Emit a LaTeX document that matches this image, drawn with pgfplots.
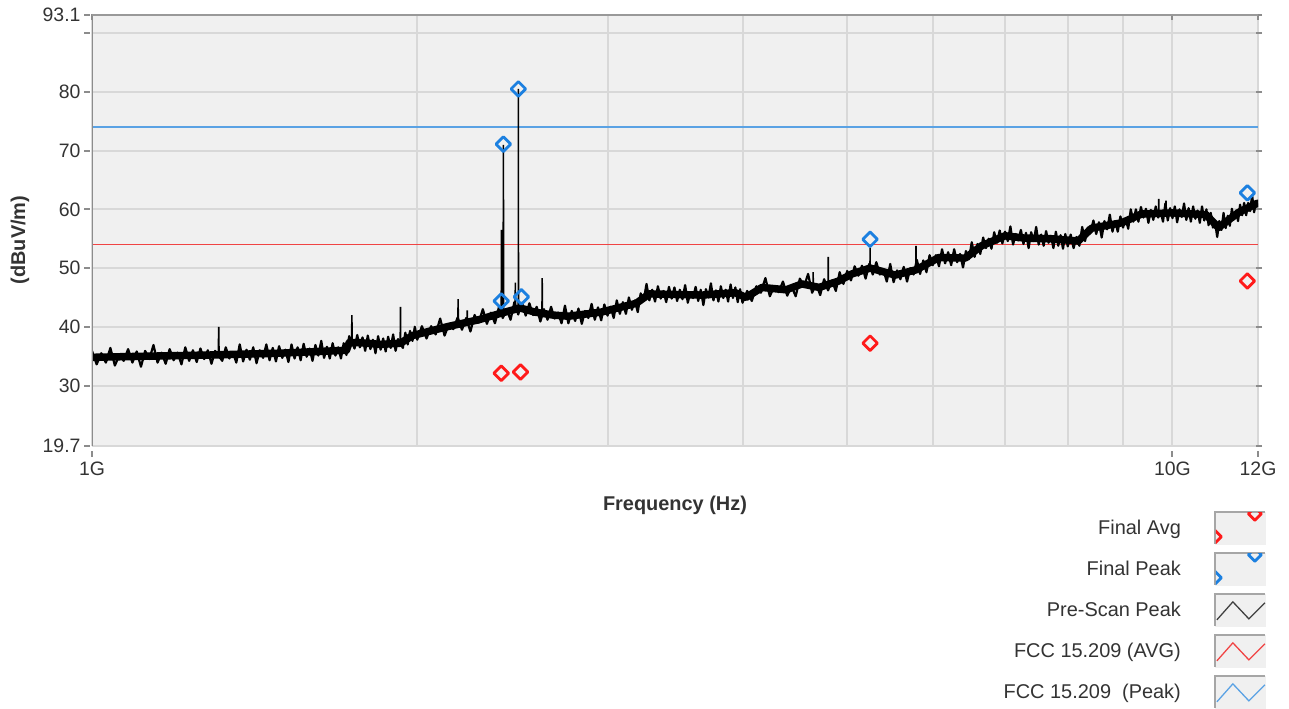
\documentclass[border=0pt]{standalone}
\usepackage{fontspec}
\setmainfont{Liberation Sans}
\usepackage{pgfplots}
\pgfplotsset{compat=1.18}
\definecolor{bgc}{HTML}{F0F0F0}
\definecolor{gridc}{HTML}{D8D8D8}
\definecolor{limblue}{HTML}{5AA2E4}
\definecolor{limred}{HTML}{F04444}
\definecolor{mkblue}{HTML}{1C80E0}
\definecolor{mkred}{HTML}{FF1A1A}
\definecolor{txt}{HTML}{333333}
\definecolor{axc}{HTML}{8C8C8C}
\newcommand{\legbox}{%
  \path[draw=none] (0bp,0bp);
  \fill[bgc] (32bp,-16bp) rectangle (82bp,16bp);
  \draw[gray!70, line width=2bp, solid] (32bp,-16bp) -- (32bp,16bp) -- (82bp,16bp);}
\newcommand{\legclip}{\pgfpathrectangle{\pgfqpoint{33bp}{-16bp}}{\pgfqpoint{49bp}{31bp}}\pgfusepath{clip}}
\begin{document}
\begin{tikzpicture}[x=1bp,y=1bp]
\path[use as bounding box] (0,0) rectangle (1289,709);
\begin{axis}[
  at={(92bp,263bp)}, anchor=south west,
  scale only axis, width=1166bp, height=431bp,
  xmode=log, xmin=1, xmax=12, ymin=19.7, ymax=93.1,
  axis background/.style={fill=bgc},
  axis line style={draw=none},
  xtick={1,10,12}, xticklabels={1G,10G,12G},
  minor xtick={2,3,4,5,6,7,8,9},
  ytick={19.7,30,40,50,60,70,80,90,93.1},
  yticklabels={19.7,30,40,50,60,70,80,,93.1},
  xmajorgrids, xminorgrids, ymajorgrids,
  major grid style={gridc, line width=2bp},
  minor grid style={gridc, line width=2bp},
  tick align=outside, major tick length=6bp, minor tick length=0pt,
  tick style={color=axc, line width=2bp},
  ytick style={xshift=-2bp},
  xtick style={yshift=-5bp},
  /pgf/number format/assume math mode=true,
  ticklabel style={font=\fontsize{19.5}{23}\selectfont, text=txt},
  yticklabel style={xshift=-2bp},
  xticklabel style={yshift=-6bp},
  xlabel={\textbf{Frequency (Hz)}},
  ylabel={\textbf{(dBuV/m)}},
  label style={font=\fontsize{20}{24}\selectfont, text=txt},
  xlabel style={at={(axis description cs:0.5,-0.137)}, anchor=center},
  ylabel style={at={(axis description cs:-0.0617,0.478)}, anchor=center},
  legend plot pos=right,
  legend cell align=right,
  legend style={at={(1.0069,-0.150)}, anchor=north east, draw=none, fill=none,
    font=\fontsize{20}{24}\selectfont, text=txt, row sep=7bp, inner sep=0pt},
  unbounded coords=jump,
  clip=true,
]
% legend entries
\addlegendimage{legend image code/.code={\legbox
  \begin{scope}\legclip
  \draw[mkred, line width=2.8bp, line join=round] plot[mark=square, mark size=4.6bp, mark options={rotate=45}, only marks] coordinates {(32bp,-9bp) (72bp,14bp)};
  \end{scope}}}
\addlegendentry{Final Avg}
\addlegendimage{legend image code/.code={\legbox
  \begin{scope}\legclip
  \draw[mkblue, line width=2.8bp, line join=round] plot[mark=square, mark size=4.6bp, mark options={rotate=45}, only marks] coordinates {(32bp,-9bp) (72bp,14bp)};
  \end{scope}}}
\addlegendentry{Final Peak}
\addlegendimage{legend image code/.code={\legbox
  \draw[black!75, line width=1.3bp] (34bp,-10bp) -- (50bp,8bp) -- (66bp,-9bp) -- (82bp,7bp);}}
\addlegendentry{Pre-Scan Peak}
\addlegendimage{legend image code/.code={\legbox
  \draw[limred, line width=1.3bp] (34bp,-10bp) -- (50bp,8bp) -- (66bp,-9bp) -- (82bp,7bp);}}
\addlegendentry{FCC 15.209 (AVG)}
\addlegendimage{legend image code/.code={\legbox
  \draw[limblue, line width=1.3bp] (34bp,-10bp) -- (50bp,8bp) -- (66bp,-9bp) -- (82bp,7bp);}}
\addlegendentry{FCC 15.209 \ (Peak)}
% limit lines
\addplot[forget plot, limblue, line width=2.6bp] coordinates {(1,74) (12,74)};
\addplot[forget plot, limred, line width=1.5bp] coordinates {(1,54) (12,54)};
% pre-scan peak: dense core of the noise band
\addplot[forget plot, black, line width=7.5bp, line join=round] coordinates {
(1.00,34.8)(1.13,35.0)(1.29,35.2)(1.49,35.5)(1.72,36.0)(1.73,37.3)(1.77,37.3)(1.85,37.0)(1.93,37.2)
(1.98,38.5)(2.13,40.0)(2.28,41.2)(2.40,42.4)(2.49,43.2)(2.57,42.5)(2.67,42.0)(2.76,41.8)(2.96,42.5)
(3.19,44.0)(3.28,45.6)(3.67,45.4)(3.94,45.8)(4.03,45.0)(4.17,46.7)(4.39,46.3)(4.54,47.3)(4.71,46.7)
(4.91,47.8)(5.05,49.0)(5.25,50.0)(5.54,48.8)(5.79,49.7)(6.08,51.8)(6.43,51.7)(6.66,53.8)(7.00,55.5)
(7.30,55.1)(7.71,55.0)(8.18,54.6)(8.42,56.8)(8.97,57.7)(9.36,59.2)(9.99,59.4)(10.74,59.1)(11.03,56.9)
(11.52,59.5)(11.97,61.0)(12.00,61.0)
};
% pre-scan peak trace (noise)
\addplot[forget plot, black, line width=2.2bp, line join=round] coordinates {
(1.00,35.9)(1.01,33.6)(1.02,35.5)(1.03,33.9)(1.04,36.4)(1.05,33.4)(1.06,35.2)(1.07,34.2)(1.08,36.2)(1.09,33.9)
(1.10,35.8)(1.11,33.2)(1.12,35.9)(1.13,34.5)(1.14,36.9)(1.15,33.9)(1.16,35.6)(1.17,33.7)(1.18,36.2)(1.19,34.3)
(1.20,35.6)(1.21,33.6)(1.22,36.5)(1.23,34.2)(1.24,36.0)(1.25,34.0)(1.26,36.3)(1.27,34.5)(1.28,36.0)(1.29,33.7)
(1.30,35.9)(1.32,34.2)(1.33,36.5)(1.34,34.6)(1.35,35.7)(1.36,33.9)(1.37,37.0)
(1.38,34.1)(1.39,36.1)(1.40,34.4)(1.41,36.5)(1.42,33.8)(1.43,36.0)(1.44,34.7)(1.45,37.0)(1.46,34.3)(1.47,36.4)
(1.48,34.1)(1.49,36.7)(1.50,34.7)(1.51,36.1)(1.52,34.0)(1.53,37.0)(1.54,34.6)(1.55,36.5)(1.56,34.3)(1.57,37.1)
(1.58,34.9)(1.59,36.3)(1.60,34.2)(1.61,36.9)(1.62,35.1)(1.63,37.6)(1.64,34.7)(1.65,36.6)(1.66,34.6)(1.67,37.2)
(1.68,35.1)(1.69,36.5)(1.70,34.6)(1.71,37.2)(1.72,35.2)(1.73,38.4)(1.75,36.3)
(1.76,38.6)(1.77,36.5)(1.78,38.2)(1.79,35.9)(1.80,38.5)(1.81,36.2)(1.82,37.8)(1.83,35.5)(1.84,38.4)(1.85,36.1)
(1.86,38.0)(1.87,35.8)(1.88,38.3)(1.89,36.4)(1.90,38.7)(1.91,35.9)(1.92,37.9)
(1.94,36.4)(1.95,39.0)(1.96,37.0)(1.97,39.3)(1.98,37.6)(1.99,40.0)(2.00,37.8)
(2.02,40.1)(2.04,38.0)(2.06,40.1)(2.08,38.7)(2.10,41.4)(2.12,38.5)(2.14,40.5)(2.16,39.6)(2.18,41.6)
(2.20,39.5)(2.22,41.5)(2.24,39.2)
(2.26,42.0)(2.28,40.7)(2.30,43.0)(2.32,40.5)(2.34,42.4)(2.36,40.6)(2.38,43.3)
(2.40,41.5)(2.42,43.0)(2.44,41.2)(2.46,44.2)
(2.48,42.1)(2.50,44.1)(2.52,41.9)(2.54,44.0)(2.56,42.0)(2.58,43.4)(2.60,40.9)
(2.62,43.0)(2.64,41.2)(2.66,43.4)(2.68,41.4)(2.70,42.4)(2.72,40.6)(2.74,43.6)
(2.76,40.6)(2.78,42.7)(2.80,41.0)(2.82,43.1)(2.84,40.5)(2.86,42.7)(2.88,41.5)(2.90,43.9)(2.92,41.2)(2.94,43.3)
(2.96,41.1)(2.98,43.8)(3.00,41.9)(3.02,43.4)(3.04,41.5)(3.06,44.5)(3.08,42.2)(3.10,44.2)(3.12,42.2)(3.14,45.0)
(3.16,42.9)(3.18,44.5)(3.20,42.5)(3.22,45.7)(3.24,44.4)(3.26,47.3)(3.28,44.5)(3.30,46.3)(3.32,44.3)(3.34,46.9)
(3.36,44.8)(3.38,46.1)(3.40,44.2)(3.42,46.8)(3.44,44.8)(3.46,46.7)(3.48,44.4)(3.50,46.3)(3.52,44.7)(3.54,47.1)
(3.56,44.1)(3.58,45.9)(3.60,44.9)(3.62,46.8)(3.64,44.4)(3.66,46.3)(3.68,43.7)(3.70,46.4)(3.72,45.0)(3.74,47.4)
(3.76,44.5)(3.78,46.2)(3.80,44.3)(3.82,46.9)(3.84,44.9)(3.86,46.3)(3.88,44.3)(3.90,47.2)(3.92,44.9)(3.94,46.7)
(3.96,44.2)(3.98,46.4)(4.00,44.1)
(4.04,46.1)(4.08,44.4)(4.12,46.9)(4.16,45.8)(4.20,48.3)(4.24,45.2)(4.28,46.9)(4.32,45.9)(4.36,47.7)(4.40,45.3)
(4.44,46.9)(4.48,45.2)(4.52,48.2)(4.56,46.8)(4.60,49.0)(4.64,45.8)(4.68,47.3)
(4.72,45.4)(4.76,48.1)(4.80,46.2)(4.84,47.9)(4.88,46.1)(4.92,49.3)(4.96,47.3)
(5.00,49.5)(5.04,47.9)(5.08,50.3)(5.12,48.7)(5.16,50.4)(5.20,48.2)(5.24,50.7)
(5.28,48.9)(5.32,51.0)(5.36,48.9)(5.40,49.7)(5.44,47.7)(5.48,50.7)(5.52,47.6)(5.56,49.6)(5.60,48.1)(5.64,50.2)
(5.68,47.7)(5.72,50.0)(5.76,48.9)(5.80,51.4)(5.84,49.0)(5.88,51.3)(5.92,49.3)
(5.96,52.2)(6.00,50.5)(6.04,52.2)(6.08,50.3)(6.12,53.2)(6.16,50.8)(6.20,52.7)(6.24,50.5)(6.28,53.2)(6.32,51.0)
(6.36,52.4)(6.40,50.1)(6.44,52.9)(6.48,51.5)(6.52,54.4)(6.56,51.9)(6.60,54.1)(6.64,52.4)(6.68,55.2)(6.72,53.4)
(6.76,55.0)(6.80,53.3)(6.84,56.1)(6.88,54.3)(6.92,56.4)(6.96,54.2)(7.00,56.2)(7.04,54.6)(7.08,57.1)(7.12,54.0)
(7.16,55.8)(7.20,54.7)(7.24,56.5)(7.28,54.1)(7.32,56.0)(7.36,53.4)(7.40,56.1)(7.44,54.6)(7.48,57.0)(7.52,54.0)
(7.56,55.7)(7.60,53.8)(7.64,56.3)(7.68,54.3)(7.72,55.5)(7.76,53.4)(7.80,56.2)(7.84,53.8)(7.88,55.6)(7.92,53.3)
(7.96,55.8)(8.00,53.7)
(8.05,55.7)(8.10,53.4)(8.15,55.3)(8.20,53.8)(8.25,57.0)(8.30,54.6)(8.35,56.9)(8.40,56.2)(8.45,58.1)(8.50,55.8)
(8.55,57.8)(8.60,55.2)(8.65,58.0)(8.70,56.6)(8.75,59.1)(8.80,56.2)(8.85,58.0)(8.90,56.2)(8.95,58.8)(9.00,56.9)
(9.05,58.4)(9.10,56.7)(9.15,60.0)(9.20,57.9)(9.25,60.0)(9.30,57.9)(9.35,60.4)(9.40,58.6)(9.45,60.1)(9.50,57.7)
(9.55,59.9)(9.60,58.2)(9.65,60.5)(9.70,58.6)(9.75,59.7)(9.80,57.9)(9.85,61.0)
(9.90,58.1)(9.95,60.2)(10.00,58.5)(10.05,60.5)(10.10,57.8)(10.15,60.0)(10.20,58.7)
(10.25,61.0)(10.30,58.2)(10.35,60.2)(10.40,57.9)(10.45,60.5)(10.50,58.4)(10.55,59.8)(10.60,57.7)(10.65,60.5)(10.70,58.1)
(10.75,60.0)(10.80,57.3)(10.85,59.4)(10.90,56.9)(10.95,57.8)(11.00,55.3)(11.05,58.0)(11.10,56.5)(11.15,59.4)(11.20,56.8)
(11.25,58.9)(11.30,57.2)(11.35,60.1)(11.40,58.3)(11.45,59.8)(11.50,58.0)(11.55,60.8)(11.60,59.0)(11.65,61.1)(11.70,59.0)
(11.75,61.1)(11.80,59.7)(11.85,62.4)(11.90,59.5)(11.95,61.4)(12.00,60.4)
};
% narrow spurs of the pre-scan trace
\addplot[forget plot, black, line width=1.6bp] coordinates {
(1.309,35.3)(1.31,40.0)(1.311,35.3)(1.312,nan)
(1.739,37.0)(1.74,42.0)(1.741,37.0)(1.742,nan)
(1.929,37.0)(1.93,43.4)(1.931,37.0)(1.932,nan)
(2.181,40.3)(2.182,44.7)(2.183,40.3)(2.184,nan)
(2.224,40.6)(2.225,42.8)(2.226,40.6)(2.227,nan)
(2.392,42.2)(2.393,56.5)(2.394,42.2)(2.395,nan)
(2.402,42.4)(2.403,71.0)(2.404,42.4)(2.405,nan)
(2.464,42.9)(2.465,47.5)(2.466,42.9)(2.467,nan)
(2.4805,43.0)(2.481,80.5)(2.4815,43.0)(2.482,nan)
(2.609,42.4)(2.61,48.3)(2.611,42.4)(2.612,nan)
(4.649,46.8)(4.65,49.3)(4.651,46.8)(4.652,nan)
(4.801,47.0)(4.802,51.9)(4.803,47.0)(4.804,nan)
(5.249,50.0)(5.25,53.5)(5.251,50.0)(5.252,nan)
(5.789,49.7)(5.79,53.8)(5.791,49.7)(5.792,nan)
(9.71,59.3)(9.712,61.8)(9.714,59.3)(9.715,nan)
(9.86,59.3)(9.862,61.5)(9.864,59.3)
};
% final peak
\addplot[forget plot, only marks, mark=square, mark size=5.2bp,
  mark options={rotate=45, draw=mkblue, fill=none, line width=2.8bp, line join=round}]
  coordinates {(2.392,44.4) (2.403,71.1) (2.481,80.5) (2.497,45.1) (5.25,54.9) (11.73,62.8)};
% final avg
\addplot[forget plot, only marks, mark=square, mark size=5.2bp,
  mark options={rotate=45, draw=mkred, fill=none, line width=2.8bp, line join=round}]
  coordinates {(2.392,32.1) (2.492,32.3) (5.25,37.2) (11.73,47.8)};
% frame lines
\draw[axc, line width=2bp] (rel axis cs:0,0) -- (rel axis cs:0,1);
\draw[gray!80, line width=2.2bp] (rel axis cs:0,1) -- (rel axis cs:1,1);
\end{axis}
\end{tikzpicture}
\end{document}
